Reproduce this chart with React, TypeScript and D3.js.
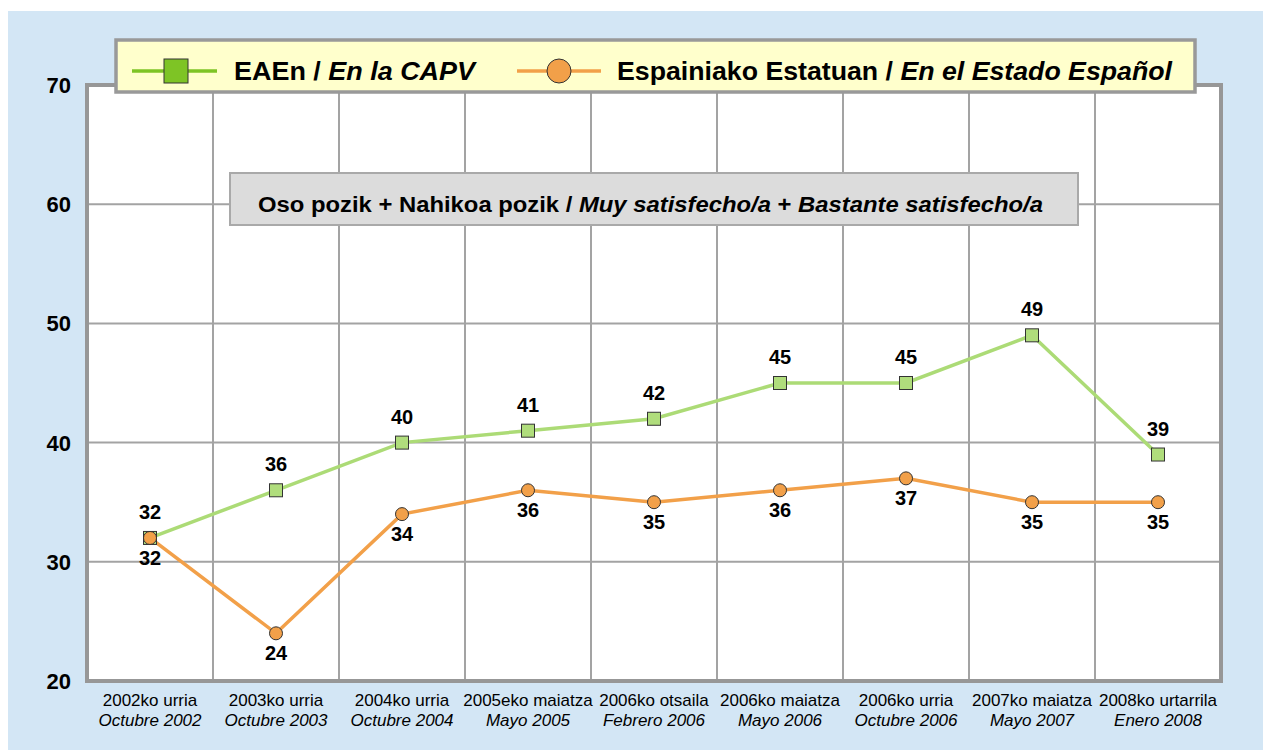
import React from "react";
import * as d3 from "d3";

const categories1 = [
  "2002ko urria", "2003ko urria", "2004ko urria", "2005eko maiatza", "2006ko otsaila",
  "2006ko maiatza", "2006ko urria", "2007ko maiatza", "2008ko urtarrila",
];
const categories2 = [
  "Octubre 2002", "Octubre 2003", "Octubre 2004", "Mayo 2005", "Febrero 2006",
  "Mayo 2006", "Octubre 2006", "Mayo 2007", "Enero 2008",
];
const capv = [32, 36, 40, 41, 42, 45, 45, 49, 39];
const estado = [32, 24, 34, 36, 35, 36, 37, 35, 35];
const yTicks = [20, 30, 40, 50, 60, 70];

const FONT = "'Liberation Sans', Arial, sans-serif";
const GREEN_LINE = "#acdb76";
const GREEN_FILL = "#b0dd7c";
const GREEN_LEG = "#7ec425";
const ORANGE = "#f2a049";

export default function App() {
  const left = 87, right = 1221, top = 85, bottom = 681;
  const x = d3.scaleBand<number>().domain(d3.range(9)).range([left, right]).padding(0);
  const y = d3.scaleLinear().domain([20, 70]).range([bottom, top]);
  const cx = (i: number) => (x(i) as number) + x.bandwidth() / 2;
  const line = d3.line<number>().x((_, i) => cx(i)).y((d) => y(d));

  return (
    <svg width={1263} height={750} style={{ position: "absolute", left: 0, top: 0 }} fontFamily={FONT}>
      <rect x={8} y={11} width={1255} height={739} fill="#d3e6f5" />
      <rect x={left} y={top} width={right - left} height={bottom - top} fill="#ffffff" />
      {yTicks.map((t) => (
        <line key={"gy" + t} x1={left} x2={right} y1={y(t)} y2={y(t)} stroke="#a3a3a3" strokeWidth={2} />
      ))}
      {d3.range(10).map((i) => {
        const xx = i < 9 ? (x(i) as number) : right;
        return <line key={"gx" + i} x1={xx} x2={xx} y1={top} y2={bottom} stroke="#a3a3a3" strokeWidth={2} />;
      })}
      <rect x={left} y={top} width={right - left} height={bottom - top} fill="none" stroke="#979797" strokeWidth={4} />

      {yTicks.map((t) => (
        <text key={"yl" + t} x={71} y={y(t) + 8} textAnchor="end" fontSize={22} fontWeight="bold" fill="#000">
          {t}
        </text>
      ))}
      {categories1.map((c, i) => (
        <g key={"xl" + i}>
          <text x={cx(i)} y={706} textAnchor="middle" fontSize={17} fill="#000">{c}</text>
          <text x={cx(i)} y={726} textAnchor="middle" fontSize={17} fontStyle="italic" fill="#000">
            {categories2[i]}
          </text>
        </g>
      ))}

      {/* title box */}
      <rect x={230} y={173} width={848} height={52} fill="#dcdcdc" stroke="#a9a9a9" strokeWidth={2} />
      <text x={258} y={212} fontSize={22} fontWeight="bold" fill="#000" textLength={785} lengthAdjust="spacingAndGlyphs">
        Oso pozik + Nahikoa pozik / <tspan fontStyle="italic">Muy satisfecho/a</tspan> +{" "}
        <tspan fontStyle="italic">Bastante satisfecho/a</tspan>
      </text>

      {/* series lines */}
      <path d={line(estado) || ""} fill="none" stroke={ORANGE} strokeWidth={3.5} />
      <path d={line(capv) || ""} fill="none" stroke={GREEN_LINE} strokeWidth={3.5} />
      {capv.map((v, i) => (
        <g key={"c" + i}>
          <rect x={cx(i) - 6.5} y={y(v) - 6.5} width={13} height={13} fill={GREEN_FILL} stroke="#333" strokeWidth={1} />
          <text x={cx(i)} y={y(v) - 19} textAnchor="middle" fontSize={20} fontWeight="bold" fill="#000">{v}</text>
        </g>
      ))}
      {estado.map((v, i) => (
        <g key={"e" + i}>
          <circle cx={cx(i)} cy={y(v)} r={6.5} fill={ORANGE} stroke="#333" strokeWidth={1} />
          <text x={cx(i)} y={y(v) + 27} textAnchor="middle" fontSize={20} fontWeight="bold" fill="#000">{v}</text>
        </g>
      ))}

      {/* legend */}
      <rect x={116} y={40} width={1079} height={52} fill="#ffffcc" stroke="#999" strokeWidth={3.5} />
      <line x1={132} x2={217} y1={71} y2={71} stroke={GREEN_LEG} strokeWidth={3.5} />
      <rect x={164} y={59} width={24} height={24} fill={GREEN_LEG} stroke="#333" strokeWidth={1} />
      <text x={234} y={80} fontSize={26} fontWeight="bold" fill="#000" textLength={241} lengthAdjust="spacingAndGlyphs">
        EAEn / <tspan fontStyle="italic">En la CAPV</tspan>
      </text>
      <line x1={517} x2={601} y1={71} y2={71} stroke={ORANGE} strokeWidth={3.5} />
      <circle cx={559} cy={71} r={12} fill={ORANGE} stroke="#333" strokeWidth={1} />
      <text x={617} y={80} fontSize={26} fontWeight="bold" fill="#000" textLength={555} lengthAdjust="spacingAndGlyphs">
        Espainiako Estatuan / <tspan fontStyle="italic">En el Estado Español</tspan>
      </text>
    </svg>
  );
}
